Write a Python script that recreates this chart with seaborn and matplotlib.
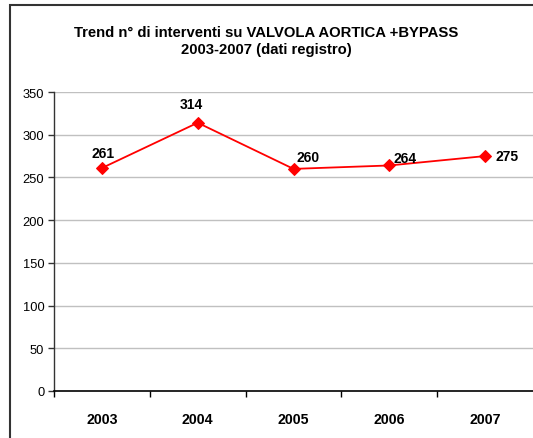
import matplotlib
matplotlib.use("Agg")
import matplotlib.pyplot as plt
import matplotlib.patches as patches
import seaborn as sns
import pandas as pd
import numpy as np

# Data
years = ["2003", "2004", "2005", "2006", "2007"]
interventi = [261, 314, 260, 264, 275]
y_ticks = [0, 50, 100, 150, 200, 250, 300, 350]

df = pd.DataFrame({"anno": years, "n": interventi})

sns.set_style("white")
plt.rcParams["font.family"] = ["Liberation Sans", "DejaVu Sans"]
plt.rcParams["text.color"] = "black"
plt.rcParams["xtick.color"] = "black"
plt.rcParams["ytick.color"] = "black"

fig = plt.figure(figsize=(5.33, 4.39), dpi=100)
ax = fig.add_axes([54 / 533, 47 / 439, 1 - 54 / 533, 299 / 439])

# horizontal gridlines
for v in y_ticks[1:]:
    ax.axhline(v, color="#c0c0c0", lw=1, zorder=0)

sns.lineplot(data=df, x="anno", y="n", color="red", lw=1.3, marker="D",
             markersize=6.5, markeredgecolor="red", ax=ax, zorder=3)

# value labels (offsets in pixels)
offsets = [(1, 15), (-6, 19), (3, 12), (4, 7), (10, 0)]
for i, v in enumerate(interventi):
    dx, dy = offsets[i]
    ha = "center" if i < 2 else "left"
    ax.annotate(str(v), (i, v), xytext=(dx * 0.72, dy * 0.72),
                textcoords="offset points", ha=ha, va="center",
                fontsize=10, fontweight="bold", color="black")

ax.set_xlim(-0.5, 4.5)
ax.set_ylim(0, 350)
ax.set_yticks(y_ticks)
ax.set_yticklabels([str(t) for t in y_ticks], fontsize=9.3)
ax.set_xticks(range(len(years)))
ax.set_xticklabels(years, fontsize=10.2, fontweight="bold")
ax.tick_params(axis="x", which="major", length=0, pad=15)
ax.set_xticks(np.arange(-0.5, 4.5, 1), minor=True)
ax.tick_params(axis="x", which="minor", length=4, width=1, color="black",
               direction="out", bottom=True)
ax.tick_params(axis="y", length=4, width=1, color="#333333", direction="out",
               left=True, pad=3)
ax.set_xlabel("")
ax.set_ylabel("")

for s in ["top", "right"]:
    ax.spines[s].set_visible(False)
ax.spines["left"].set_color("#333333")
ax.spines["left"].set_linewidth(1)
ax.spines["bottom"].set_color("black")
ax.spines["bottom"].set_linewidth(1.2)

fig.text(266 / 533, 1 - 33 / 439,
         "Trend n° di interventi su VALVOLA AORTICA +BYPASS",
         ha="center", va="center", fontsize=10.7, fontweight="bold")
fig.text(266 / 533, 1 - 50 / 439, "2003-2007 (dati registro)",
         ha="center", va="center", fontsize=10.7, fontweight="bold")

# outer frame of the chart object
frame = patches.Rectangle((10 / 533, -0.05), 1.2, 1 - 6 / 439 + 0.05,
                          transform=fig.transFigure, fill=False,
                          edgecolor="#333333", lw=1.5)
fig.patches.append(frame)

fig.savefig("out.png", dpi=100)
